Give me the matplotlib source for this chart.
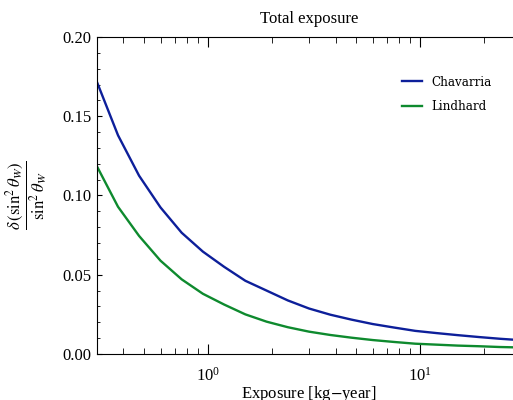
import numpy as np
import matplotlib
matplotlib.use("Agg")
import matplotlib.pyplot as plt
from matplotlib.ticker import MultipleLocator, LogLocator, NullFormatter, FormatStrFormatter

plt.rcParams['font.family'] = ['Liberation Serif', 'DejaVu Serif']
plt.rcParams['mathtext.fontset'] = 'stix'

exposure = [0.300, 0.378, 0.475, 0.599, 0.754, 0.949, 1.195, 1.504, 1.894, 2.384,
            3.00, 3.78, 4.75, 5.99, 7.54, 9.49, 11.95, 15.04, 18.94, 23.84, 30.0]
chavarria = [0.172, 0.138, 0.1125, 0.0925, 0.0765, 0.0646, 0.0550, 0.0462, 0.0400, 0.0338,
             0.0287, 0.0248, 0.0217, 0.0189, 0.0167, 0.0146, 0.0132, 0.0119, 0.0107, 0.0096, 0.0087]
lindhard = [0.1187, 0.0929, 0.0745, 0.0589, 0.0471, 0.0380, 0.0312, 0.0250, 0.0204, 0.0169,
            0.0141, 0.0120, 0.0103, 0.0088, 0.0076, 0.0065, 0.0059, 0.0053, 0.0049, 0.0044, 0.0041]
labels = ["Chavarria", "Lindhard"]
colors = ["#0d1f9a", "#0e8a2e"]

fig = plt.figure(figsize=(5.13, 4.0), dpi=100)
ax = fig.add_axes([0.1885, 0.115, 0.8277, 0.7925])

ax.plot(exposure, chavarria, color=colors[0], lw=1.7, label=labels[0])
ax.plot(exposure, lindhard, color=colors[1], lw=1.7, label=labels[1])

ax.set_xscale('log')
ax.set_xlim(0.3, 30)
ax.set_ylim(0, 0.20)
ax.yaxis.set_major_locator(MultipleLocator(0.05))
ax.yaxis.set_minor_locator(MultipleLocator(0.01))
ax.yaxis.set_major_formatter(FormatStrFormatter('%.2f'))
ax.xaxis.set_major_locator(LogLocator(base=10))
ax.xaxis.set_minor_locator(LogLocator(base=10, subs=np.arange(2, 10)))
ax.xaxis.set_minor_formatter(NullFormatter())

ax.tick_params(axis='both', which='both', direction='in', top=True, right=True, labelsize=12)
ax.tick_params(axis='x', which='major', length=7.2, pad=9)
ax.tick_params(axis='x', which='minor', length=4.3)
ax.tick_params(axis='y', which='major', length=3.6)
ax.tick_params(axis='y', which='minor', length=2.2)

ax.set_title("Total exposure", fontsize=12, pad=10)
ax.set_xlabel("Exposure [kg$-$year]", fontsize=12, labelpad=0)
ax.set_ylabel(r"$\dfrac{\delta\,\left(\sin^2\theta_W\right)}{\sin^2\theta_W}$", fontsize=12, labelpad=9)

ax.legend(loc='upper left', bbox_to_anchor=(0.718, 0.878), frameon=False,
          prop={'family': 'DejaVu Serif', 'size': 8.6},
          borderaxespad=0, borderpad=0, labelspacing=0.95, handlelength=1.75, handletextpad=0.75)

fig.savefig("out.png", dpi=100)
